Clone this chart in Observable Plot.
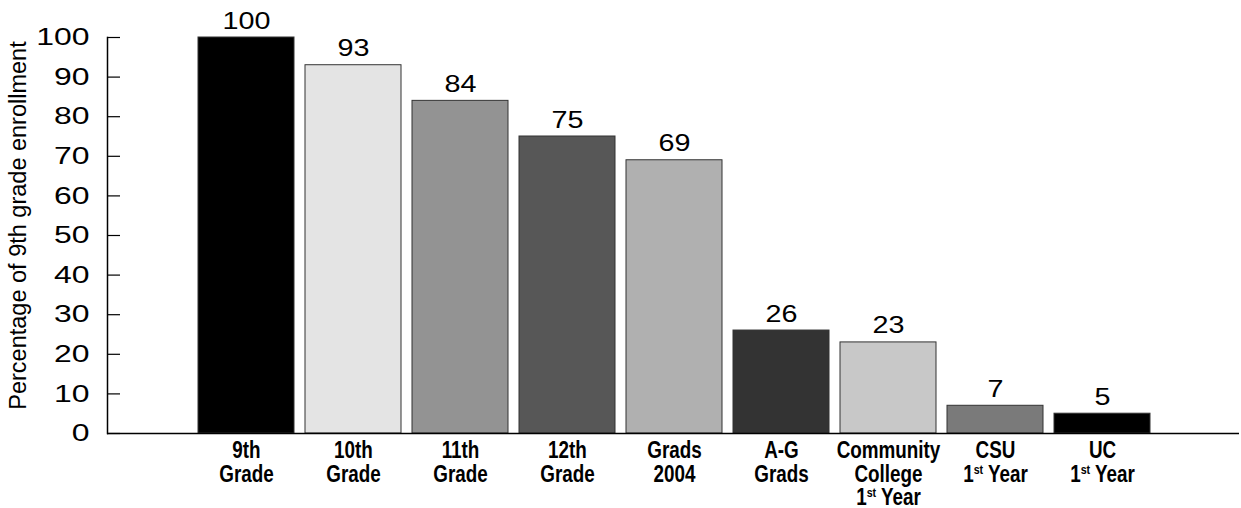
<!DOCTYPE html>
<html><head><meta charset="utf-8">
<script src="https://cdn.jsdelivr.net/npm/d3@7"></script>
<script src="https://cdn.jsdelivr.net/npm/@observablehq/plot@0.6"></script>
<style>body{margin:0;background:#fff}</style>
</head><body><div id="chart"></div>
<script>
const categories = ["9th\nGrade","10th\nGrade","11th\nGrade","12th\nGrade","Grads\n2004","A-G\nGrads","Community\nCollege\n1st Year","CSU\n1st Year","UC\n1st Year"];
const values = [100, 93, 84, 75, 69, 26, 23, 7, 5];
const colors = ["#000000","#e4e4e4","#939393","#575757","#b0b0b0","#333333","#c8c8c8","#7a7a7a","#000000"];
const yTicks = [0,10,20,30,40,50,60,70,80,90,100];
const yLabel = "Percentage of 9th grade enrollment";

const data = categories.map((c, i) => ({cat: c, value: values[i], color: colors[i]}));

const W = 1241, H = 508, mL = 107, mR = 2, mT = 37, mB = 75;

const plot = Plot.plot({
  width: W, height: H, marginLeft: mL, marginRight: mR, marginTop: mT, marginBottom: mB,
  x: {domain: categories, range: [190.6, 1157.2], paddingInner: 0.1, paddingOuter: 0.05, label: null},
  y: {domain: [0, 100], label: null},
  style: {fontFamily: "'Liberation Sans', Arial, sans-serif", background: "#fff", color: "#000", overflow: "visible"},
  marks: [
    Plot.barY(data, {x: "cat", y: "value", fill: "color", stroke: "#333", strokeWidth: 1}),
    Plot.ruleY([0], {stroke: "#000", strokeWidth: 1.5}),
    Plot.frame({anchor: "left", stroke: "#000", strokeWidth: 1.5}),
    Plot.tickY(yTicks, {y: d => d, stroke: "#000", strokeWidth: 1.2, insetRight: (W - mL - mR) - 13}),
    Plot.axisY(yTicks, {tickSize: 0, tickPadding: 18, fontSize: 24, label: null}),
    Plot.axisX({tickSize: 0, tickPadding: 8, fontSize: 23, fontFamily: "'Liberation Sans', Arial, sans-serif", fontWeight: "bold", lineHeight: 1.02, label: null, stroke: "#000", strokeWidth: 0.5}),
    Plot.text(data, {x: "cat", y: "value", text: d => String(d.value), lineAnchor: "bottom", dy: -9, fontSize: 23}),
    Plot.text([yLabel], {frameAnchor: "left", rotate: -90, dx: -89, dy: -10, fontSize: 23.5, lineAnchor: "middle", textAnchor: "middle"})
  ]
});

const svg = d3.select(plot);
function stretch(sel, s) {
  sel.each(function() {
    const t = this.getAttribute("transform");
    if (t) this.setAttribute("transform", t + ` scale(${s},1)`);
  });
}
stretch(svg.selectAll('g[aria-label="y-axis tick label"] text'), 1.33);
stretch(svg.selectAll('g[aria-label="text"] text').filter(function(){ return !/Percentage/.test(this.textContent); }), 1.25);
stretch(svg.selectAll('g[aria-label="x-axis tick label"] text'), 0.82);

// superscript "st" in x labels
svg.selectAll('g[aria-label="x-axis tick label"] tspan').each(function() {
  if (this.textContent === "1st Year") {
    const el = d3.select(this);
    el.text("1");
    el.append("tspan").attr("font-size", "13px").attr("dy", "-8").text("st");
    el.append("tspan").attr("dy", "8").text(" Year");
  }
});

document.getElementById("chart").appendChild(plot);
</script>
</body></html>
